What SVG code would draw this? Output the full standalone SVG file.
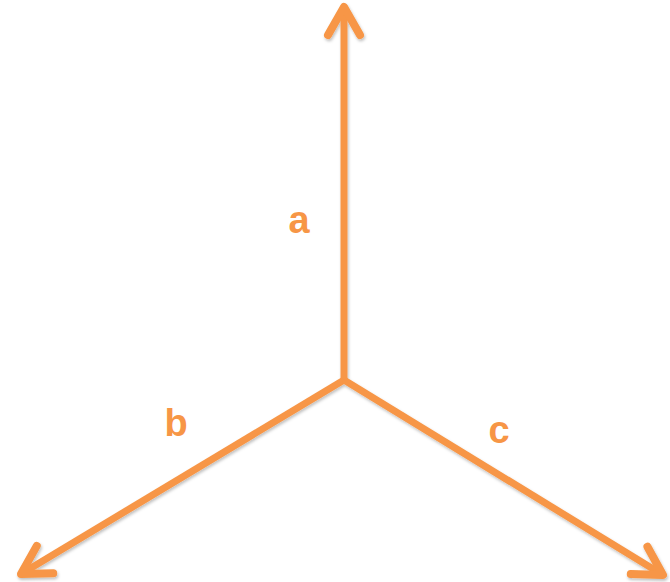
<svg xmlns="http://www.w3.org/2000/svg" width="670" height="582" viewBox="0 0 670 582">
<style>
.ln{stroke:#F79646;stroke-width:7;fill:none;stroke-linecap:butt}
.lbl{font-family:"Liberation Sans",Arial,sans-serif;font-weight:bold;font-size:38px;fill:#F79646;text-anchor:middle}
</style>
<defs>
<marker id="head" markerUnits="userSpaceOnUse" orient="auto" refX="0" refY="0" markerWidth="40" markerHeight="40" viewBox="-34 -20 38 40" overflow="visible">
<path d="M-28,-16 L0,0 L-28,16" fill="none" stroke="#F79646" stroke-width="8" stroke-linecap="round" stroke-linejoin="round"/>
</marker>
<filter id="sh" x="-10%" y="-10%" width="120%" height="120%">
<feDropShadow dx="1" dy="2" stdDeviation="1.5" flood-color="#000" flood-opacity="0.25"/>
</filter>
</defs>
<g id="connectors" filter="url(#sh)">
<line id="arrow-a" class="ln" x1="344" y1="380" x2="344" y2="7" marker-end="url(#head)"/>
<line id="arrow-b" class="ln" x1="344" y1="380" x2="21" y2="574" marker-end="url(#head)"/>
<line id="arrow-c" class="ln" x1="344" y1="380" x2="663" y2="575" marker-end="url(#head)"/>
</g>
<g id="label-a"><text class="lbl" x="299" y="233">a</text></g>
<g id="label-b"><text class="lbl" x="176" y="436">b</text></g>
<g id="label-c"><text class="lbl" x="499" y="443">c</text></g>
</svg>
